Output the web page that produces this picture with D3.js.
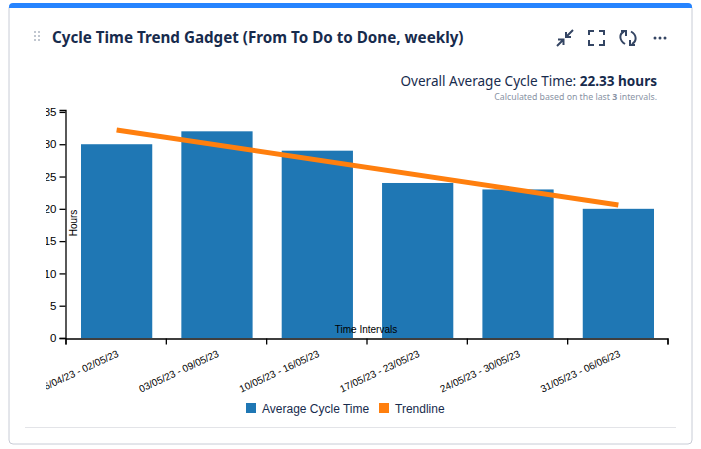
<!DOCTYPE html>
<html>
<head>
<meta charset="utf-8">
<script src="https://cdn.jsdelivr.net/npm/d3@7"></script>
<style>
  html, body { margin: 0; padding: 0; background: #fff; overflow: hidden; }
  svg { display: block; }
  .axis text { font-family: "Liberation Sans", Arial, sans-serif; fill: #000; }
  .axis path, .axis line { stroke: #000; stroke-width: 1.3; }
</style>
</head>
<body>
<svg id="chart" width="701" height="449"></svg>
<script>
var intervals = ["26/04/23 - 02/05/23", "03/05/23 - 09/05/23", "10/05/23 - 16/05/23",
                 "17/05/23 - 23/05/23", "24/05/23 - 30/05/23", "31/05/23 - 06/06/23"];
var cycleTimes = [30, 32, 29, 24, 23, 20];
var trendValues = [32.2, 20.6];
var yTicks = [0, 5, 10, 15, 20, 25, 30, 35];
var legendNames = ["Average Cycle Time", "Trendline"];
var legendColors = ["#1f77b4", "#ff7f0e"];

var svg = d3.select("#chart");
var navy = "#172b4d";

// card
svg.append("rect").attr("x", 9).attr("y", 4).attr("width", 683).attr("height", 440).attr("rx", 4)
  .attr("fill", "#fff").attr("stroke", "#c8ccd6").attr("stroke-width", 1);
svg.append("path").attr("d", "M9,8 V7 Q9,3 13,3 H688 Q692,3 692,7 V8 Z").attr("fill", "#2684ff");
svg.append("line").attr("x1", 25).attr("x2", 676).attr("y1", 427.5).attr("y2", 427.5).attr("stroke", "#e3e4e8");

// drag handle
var dots = d3.cross([34, 38], [31, 35, 39]);
svg.selectAll(".grip").data(dots).enter().append("rect").attr("class", "grip")
  .attr("x", function(d) { return d[0]; }).attr("y", function(d) { return d[1]; })
  .attr("width", 2).attr("height", 2).attr("fill", "#c1c7d0");

svg.append("text").attr("x", 52).attr("y", 43).attr("fill", navy)
  .style("font", "bold 15.2px 'Noto Sans'").text("Cycle Time Trend Gadget (From To Do to Done, weekly)");

var head = svg.append("text").attr("x", 657).attr("y", 86).attr("text-anchor", "end").attr("fill", navy)
  .style("font", "13.55px 'Noto Sans'");
head.append("tspan").text("Overall Average Cycle Time: ");
head.append("tspan").attr("font-weight", "bold").text("22.33 hours");
var sub = svg.append("text").attr("x", 657).attr("y", 100).attr("text-anchor", "end").attr("fill", "#8993a4")
  .style("font", "8.75px 'Noto Sans'");
sub.append("tspan").text("Calculated based on the last ");
sub.append("tspan").attr("font-weight", "bold").text("3");
sub.append("tspan").text(" intervals.");

// toolbar icons
var icon = svg.append("g").attr("fill", "none").attr("stroke", "#344563").attr("stroke-width", 2);
icon.append("path").attr("d", "M557,46 L563,40 M558,39.5 H563.5 V45 M573,30 L566,37 M566,32 V37 H571");
icon.append("path").attr("d", "M589,35 V31 H594 M599,31 H604 V35 M589,40 V45 H594 M599,45 H604 V40");
icon.append("path").attr("d", "M625,44 C619,40 619,34 624,31.5 M621,31 H626 V36 M631,31.5 C637,35 637,41 632,44 M635,45 H630 V40");
svg.selectAll(".more").data([655, 660, 665]).enter().append("circle").attr("class", "more")
  .attr("cx", function(d) { return d; }).attr("cy", 38).attr("r", 1.5).attr("fill", "#344563");

// scales
var x = d3.scaleBand().domain(intervals).range([81, 654]).paddingInner(0.29);
var xEdge = d3.scaleLinear().domain([0, intervals.length]).range([65.5, 667.5]);
var y = d3.scaleLinear().domain([0, 35.3]).range([338, 110]);

var defs = svg.append("defs");
defs.append("clipPath").attr("id", "plotClip").append("rect")
  .attr("x", 46).attr("y", 100).attr("width", 640).attr("height", 300);

var plot = svg.append("g").attr("clip-path", "url(#plotClip)");

plot.selectAll(".bar").data(cycleTimes).enter().append("rect").attr("class", "bar")
  .attr("x", function(d, i) { return x(intervals[i]); })
  .attr("width", x.bandwidth())
  .attr("y", function(d) { return y(d); })
  .attr("height", function(d) { return y(0) - y(d); })
  .attr("fill", legendColors[0]);

// trendline runs from first bar centre to last bar centre
var trendX = [intervals[0], intervals[intervals.length - 1]];
plot.append("path")
  .attr("d", d3.line()
    .x(function(d, i) { return x(trendX[i]) + x.bandwidth() / 2; })
    .y(function(d) { return y(d); })(trendValues))
  .attr("fill", "none").attr("stroke", legendColors[1]).attr("stroke-width", 5);

// y axis
plot.append("g").attr("class", "axis").attr("transform", "translate(65.5,0)")
  .call(d3.axisLeft(y).tickValues(yTicks).tickSize(6).tickPadding(3))
  .selectAll("text").style("font-size", "11.5px");

// x axis: ticks sit on the interval edges, labels under the bars
plot.append("g").attr("class", "axis").attr("transform", "translate(0,338.5)")
  .call(d3.axisBottom(xEdge).tickValues(d3.range(intervals.length + 1)).tickFormat("").tickSize(6));
var labels = plot.append("g").attr("class", "axis").attr("transform", "translate(0,338.5)")
  .call(d3.axisBottom(x).tickSize(0).tickPadding(7));
labels.select(".domain").remove();
labels.selectAll("text")
  .style("font-size", "10px")
  .attr("text-anchor", "end")
  .attr("dx", "-5px").attr("dy", "10px")
  .attr("transform", "rotate(-25)");

plot.append("text").attr("x", 366).attr("y", 333).attr("text-anchor", "middle")
  .style("font", "10px 'Liberation Sans'").attr("fill", "#000").text("Time Intervals");
plot.append("text").attr("transform", "translate(77,223) rotate(-90)").attr("text-anchor", "middle")
  .style("font", "10px 'Liberation Sans'").attr("fill", "#000").text("Hours");

// legend
var legendX = [246, 379];
var legend = svg.selectAll(".legend").data(legendNames).enter().append("g").attr("class", "legend")
  .attr("transform", function(d, i) { return "translate(" + legendX[i] + ",403)"; });
legend.append("rect").attr("width", 10).attr("height", 10)
  .attr("fill", function(d, i) { return legendColors[i]; });
legend.append("text").attr("x", 16).attr("y", 10).attr("fill", navy)
  .style("font", "12px 'Liberation Sans'").text(function(d) { return d; });
</script>
</body>
</html>
